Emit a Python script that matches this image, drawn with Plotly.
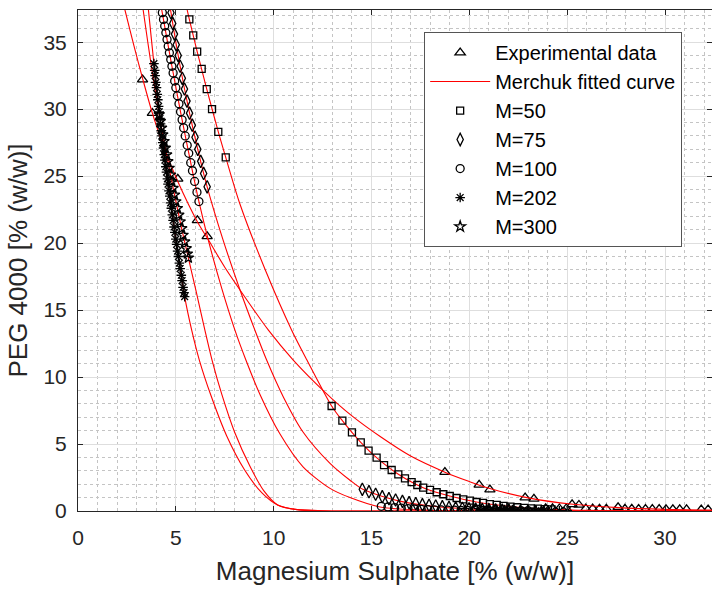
import plotly.graph_objects as go

# ---------------- data ----------------
# Experimental data (triangles)
exp_x = [3.3, 3.8, 5.1, 6.1, 6.6, 18.75, 20.5, 21.05, 22.85, 23.3, 25.25, 25.6, 27.6,
         23.9, 24.25, 24.6, 24.95, 25.95, 26.3, 26.65, 27.0, 27.95, 28.3, 28.65, 29.0,
         29.35, 29.7, 30.05, 30.4, 30.75, 31.1, 31.85, 32.2]
exp_y = [32.2, 29.7, 24.8, 21.7, 20.5, 2.9, 1.95, 1.6, 1.0, 0.9, 0.5, 0.45, 0.28,
         0.2, 0.2, 0.19, 0.19, 0.18, 0.18, 0.17, 0.17, 0.16, 0.16, 0.15, 0.15,
         0.14, 0.14, 0.13, 0.13, 0.12, 0.12, 0.11, 0.11]

# M=50 (squares)
m50_x = [5.69, 5.89, 6.09, 6.32, 6.58, 6.85, 7.17, 7.55,
         12.96, 13.51, 14.0, 14.45, 14.85, 15.26, 15.64, 16.03, 16.37, 16.71, 17.05,
         17.34, 17.64, 17.99, 18.33, 18.67, 19.0, 19.35, 19.69, 20.03, 20.37, 20.7,
         21.05, 21.4, 21.75, 22.1, 22.45, 22.8, 23.15, 23.5, 23.85, 24.2]
m50_y = [36.7, 35.5, 34.3, 33.0, 31.5, 30.0, 28.3, 26.4,
         7.84, 6.74, 5.87, 5.13, 4.5, 3.98, 3.43, 3.06, 2.74, 2.44, 2.16,
         1.94, 1.74, 1.57, 1.40, 1.25, 1.12, 0.97, 0.87, 0.77, 0.67, 0.6,
         0.52, 0.45, 0.39, 0.33, 0.28, 0.24, 0.2, 0.17, 0.14, 0.12]

# M=75 (diamonds)
m75_x = [4.75, 4.84, 4.93, 5.02, 5.12, 5.22, 5.33, 5.44, 5.57, 5.70, 5.84, 5.98,
         6.12, 6.27, 6.42, 6.60,
         14.53, 14.87, 15.21, 15.55, 15.89, 16.23, 16.58, 16.92, 17.26, 17.6, 17.94,
         18.28, 18.62, 18.96, 19.3, 19.64, 19.98, 20.32, 20.66, 21.0, 21.34, 21.68, 22.02]
m75_y = [37.2, 36.4, 35.6, 34.8, 34.0, 33.2, 32.3, 31.5, 30.6, 29.7, 28.8, 27.9,
         27.0, 26.1, 25.2, 24.2,
         1.62, 1.44, 1.25, 1.07, 0.92, 0.82, 0.72, 0.62, 0.55, 0.47, 0.42,
         0.37, 0.32, 0.27, 0.23, 0.2, 0.17, 0.14, 0.12, 0.1, 0.08, 0.07, 0.06]

# M=100 (circles)
m100_x = [4.31, 4.37, 4.43, 4.49, 4.55, 4.61, 4.67, 4.74, 4.80, 4.86, 4.94, 5.00,
          5.08, 5.16, 5.24, 5.32, 5.40, 5.48, 5.58, 5.66, 5.76, 5.85, 5.96, 6.08, 6.18,
          15.5, 15.84, 16.18, 16.52, 16.86, 17.2, 17.54, 17.88, 18.22, 18.56, 18.9,
          19.24, 19.58, 19.92, 20.26, 20.6, 20.94, 21.28, 21.62, 21.96, 22.3, 22.64, 23.0]
m100_y = [37.2, 36.7, 36.2, 35.7, 35.2, 34.7, 34.2, 33.7, 33.2, 32.7, 32.1, 31.6,
          31.0, 30.4, 29.8, 29.2, 28.6, 28.0, 27.3, 26.7, 26.0, 25.4, 24.6, 23.8, 23.1,
          0.35, 0.3, 0.25, 0.21, 0.18, 0.15, 0.12, 0.1, 0.09, 0.08, 0.07,
          0.06, 0.05, 0.05, 0.04, 0.04, 0.03, 0.03, 0.03, 0.02, 0.02, 0.02, 0.02]

# M=202 (asterisks)
m202_x = [3.88, 3.92, 3.94, 3.98, 4.01, 4.05, 4.08, 4.12, 4.15, 4.19, 4.22, 4.26,
          4.29, 4.33, 4.37, 4.41, 4.44, 4.49, 4.52, 4.57, 4.60, 4.65, 4.69, 4.73,
          4.77, 4.82, 4.86, 4.91, 4.95, 5.00, 5.04, 5.09, 5.13, 5.18, 5.22, 5.28,
          5.32, 5.37, 5.42, 5.45,
          20.6, 21.0, 21.4, 21.8, 22.2, 22.6, 23.0, 23.4, 23.8, 24.2, 24.6, 25.0]
m202_y = [33.4, 32.9, 32.5, 32.0, 31.6, 31.1, 30.7, 30.2, 29.8, 29.3, 28.9, 28.4,
          28.0, 27.5, 27.1, 26.6, 26.2, 25.7, 25.3, 24.8, 24.4, 23.9, 23.5, 23.0,
          22.6, 22.1, 21.7, 21.2, 20.8, 20.3, 19.9, 19.4, 19.0, 18.5, 18.1, 17.6,
          17.2, 16.7, 16.3, 16.0,
          0.05, 0.05, 0.04, 0.04, 0.04, 0.03, 0.03, 0.03, 0.02, 0.02, 0.02, 0.02]

# M=300 (stars)
m300_x = [4.15, 4.21, 4.27, 4.33, 4.40, 4.46, 4.53, 4.59, 4.66, 4.73, 4.79, 4.86,
          4.93, 5.00, 5.08, 5.15, 5.22, 5.30, 5.37, 5.45, 5.53, 5.59, 5.64,
          19.8, 20.2, 20.6, 21.0, 21.4, 21.8, 22.2, 22.6, 23.0, 23.4, 23.8]
m300_y = [29.6, 29.1, 28.6, 28.1, 27.6, 27.1, 26.6, 26.1, 25.6, 25.1, 24.6, 24.1,
          23.6, 23.1, 22.6, 22.1, 21.6, 21.1, 20.6, 20.1, 19.6, 19.2, 18.9,
          0.06, 0.05, 0.05, 0.04, 0.04, 0.04, 0.03, 0.03, 0.03, 0.02, 0.02]

# Merchuk fitted curves
fit_exp_x = [2.2, 2.4, 2.9, 3.3, 3.8, 4.4, 5.1, 6.1, 6.7, 7.5, 8.28, 9.73, 11.0, 12.6,
             14.0, 15.5, 17.0, 18.75, 20.0, 21.0, 23.0, 25.3, 27.6, 30.0, 32.5]
fit_exp_y = [38.6, 37.4, 34.5, 32.3, 29.7, 27.1, 24.6, 21.6, 20.15, 18.2, 16.5, 13.5,
             11.27, 8.9, 7.1, 5.5, 4.1, 2.9, 2.2, 1.7, 0.98, 0.5, 0.25, 0.12, 0.06]

fit_m50_x = [5.46, 5.58, 5.69, 6.09, 6.58, 7.17, 7.55, 8.28, 9.6, 10.92, 11.7, 12.96,
             13.51, 14.0, 14.45, 15.26, 16.37, 17.64, 19.0, 20.37, 21.75, 23.5, 26.0,
             29.0, 32.5]
fit_m50_y = [38.2, 37.4, 36.7, 34.3, 31.5, 28.3, 26.4, 22.9, 17.9, 13.5, 11.27, 7.84,
             6.74, 5.87, 5.13, 3.98, 2.74, 1.74, 1.12, 0.67, 0.39, 0.17, 0.05, 0.01, 0.0]

fit_m75_x = [4.65, 4.73, 5.22, 5.70, 6.12, 6.6, 7.4, 8.28, 9.04, 9.64, 10.5, 11.5,
             12.88, 13.9, 14.58, 16.5, 18.5, 21.0, 25.0, 32.5]
fit_m75_y = [38.2, 37.4, 33.2, 29.7, 27.0, 24.2, 20.3, 16.5, 13.5, 11.27, 8.5, 5.9,
             3.56, 2.3, 1.6, 0.72, 0.3, 0.1, 0.02, 0.0]

fit_m100_x = [4.21, 4.28, 4.8, 5.24, 5.76, 6.18, 6.7, 7.35, 8.02, 8.58, 9.3, 10.3,
              11.5, 12.88, 13.9, 15.43, 18.0, 22.0, 32.5]
fit_m100_y = [38.0, 37.4, 33.2, 29.8, 26.0, 23.1, 20.0, 16.6, 13.5, 11.27, 8.7, 5.8,
              3.3, 1.69, 1.0, 0.3, 0.05, 0.0, 0.0]

fit_m202_x = [3.53, 3.6, 3.88, 4.15, 4.55, 5.03, 5.45, 5.81, 6.2, 6.8, 7.6, 8.5, 9.4,
              10.2, 11.2, 12.5, 14.0, 32.5]
fit_m202_y = [38.4, 37.4, 33.4, 29.8, 25.0, 20.0, 16.0, 13.5, 11.27, 8.6, 5.6, 3.1,
              1.35, 0.45, 0.1, 0.02, 0.0, 0.0]

fit_m300_x = [3.25, 3.33, 3.77, 4.15, 4.66, 5.22, 5.64, 6.02, 6.47, 6.85, 7.35, 8.0,
              8.8, 9.5, 10.2, 11.2, 12.5, 14.0, 32.5]
fit_m300_y = [38.3, 37.4, 33.0, 29.6, 25.6, 21.6, 18.9, 16.5, 13.6, 11.27, 8.7, 5.9,
              3.3, 1.5, 0.45, 0.1, 0.02, 0.0, 0.0]

x_ticks = [0, 5, 10, 15, 20, 25, 30]
y_ticks = [0, 5, 10, 15, 20, 25, 30, 35]

# ---------------- figure ----------------
TXT = "#262626"
RED = "#ff0000"
FONT = "Liberation Sans, Arial, sans-serif"

fig = go.Figure()

curves = [
    (fit_exp_x, fit_exp_y, True),
    (fit_m50_x, fit_m50_y, False),
    (fit_m75_x, fit_m75_y, False),
    (fit_m100_x, fit_m100_y, False),
    (fit_m202_x, fit_m202_y, False),
    (fit_m300_x, fit_m300_y, False),
]

mk_line = dict(color="black", width=1.3)

fig.add_trace(go.Scatter(x=exp_x, y=exp_y, mode="markers", name="Experimental data",
                         legendrank=1,
                         marker=dict(symbol="triangle-up-open", size=9, color="black",
                                     line=mk_line)))
for cx, cy, show in curves:
    fig.add_trace(go.Scatter(x=cx, y=cy, mode="lines", name="Merchuk fitted curve",
                             showlegend=show, legendrank=2,
                             line=dict(color=RED, width=1.1, shape="spline", smoothing=0.8)))

series = [
    ("M=50", m50_x, m50_y, "square-open", 7),
    ("M=75", m75_x, m75_y, "diamond-tall-open", 9),
    ("M=100", m100_x, m100_y, "circle-open", 8),
    ("M=202", m202_x, m202_y, "asterisk-open", 8),
    ("M=300", m300_x, m300_y, "star-open", 8),
]
for i, (nm, sx, sy, sym, sz) in enumerate(series):
    fig.add_trace(go.Scatter(x=sx, y=sy, mode="markers", name=nm, legendrank=3 + i,
                             marker=dict(symbol=sym, size=sz, color="black",
                                         line=mk_line)))

axis_common = dict(
    showline=True, linecolor=TXT, linewidth=1, mirror="ticks",
    ticks="inside", ticklen=5, tickcolor=TXT, tickwidth=1,
    showgrid=True, gridcolor="#dedede", gridwidth=1,
    zeroline=False,
    tickfont=dict(family=FONT, size=21, color=TXT),
    minor=dict(dtick=1, showgrid=True, gridcolor="#c4c4c4", griddash="dot",
               gridwidth=1, ticks=""),
)

fig.update_xaxes(range=[0, 32.4], tickvals=x_ticks, ticklabelstandoff=8,
                 title=dict(text="Magnesium Sulphate [% (w/w)]",
                            font=dict(family=FONT, size=26, color=TXT), standoff=13),
                 **axis_common)
fig.update_yaxes(range=[0, 37.4], tickvals=y_ticks, ticklabelstandoff=6,
                 title=dict(text="PEG 4000 [% (w/w)]",
                            font=dict(family=FONT, size=26, color=TXT), standoff=8),
                 **axis_common)

fig.update_layout(
    width=712, height=589,
    margin=dict(l=78, r=0, t=10, b=78),
    plot_bgcolor="white", paper_bgcolor="white",
    font=dict(family=FONT, color=TXT),
    legend=dict(x=0.546, y=0.956, xanchor="left", yanchor="top",
                bgcolor="white", bordercolor="#555555", borderwidth=1,
                font=dict(family=FONT, size=20, color="black"),
                itemwidth=60, tracegroupgap=0),
)

fig.write_html("out.html")
